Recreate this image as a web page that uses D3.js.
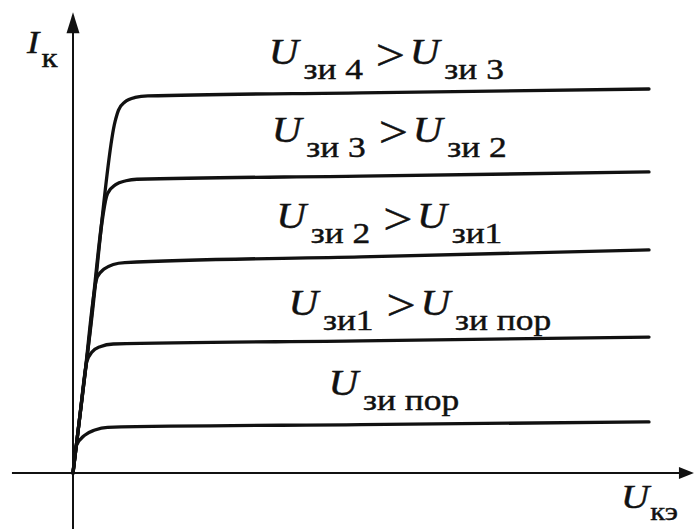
<!DOCTYPE html>
<html>
<head>
<meta charset="utf-8">
<script src="https://cdn.jsdelivr.net/npm/d3@7"></script>
<style>
  html, body { margin: 0; padding: 0; background: #fff; }
  svg { display: block; }
</style>
</head>
<body>
<svg id="chart" width="694" height="529"></svg>
<script>
// Output characteristics I_к(U_кэ) for increasing gate voltages (arbitrary units).
const gateLevels = ["зи 4", "зи 3", "зи 2", "зи1", "зи пор"];
const gateLower  = ["зи 3", "зи 2", "зи1", "зи пор", null];

// [U_кэ, I_к] points of each curve, top to bottom
const curveU4 = [[0,0],[0.3,3.7],[0.73,9.15],[0.79,9.45],[0.9,9.66],[1.08,9.78],[1.3,9.82],[5,9.9],[10,10]];
const curveU3 = [[0,0],[0.25,3.1],[0.6,7.28],[0.74,7.51],[0.92,7.61],[1.11,7.65],[5,7.73],[10,7.84]];
const curveU2 = [[0,0],[0.2,2.5],[0.42,5.1],[0.54,5.31],[0.7,5.43],[0.9,5.48],[5,5.63],[10,5.81]];
const curveU1 = [[0,0],[0.12,1.5],[0.24,2.9],[0.33,3.15],[0.47,3.29],[0.7,3.36],[5,3.44],[10,3.54]];
const curveUth = [[0,0],[0.06,0.72],[0.2,0.98],[0.38,1.12],[0.6,1.19],[5,1.26],[10,1.33]];
const curves = [curveU4, curveU3, curveU2, curveU1, curveUth];

// Axis extents in the same units
const uExtent = [-1.06, 10.78];
const iExtent = [-1.46, 12.0];

const SERIF = "Liberation Serif";
const INK = "#111";
const WIDEN = 1.18;   // horizontal stretch of the lettering

const svg = d3.select("#chart");
const x = d3.scaleLinear().domain([0, 10]).range([73, 649]);
const y = d3.scaleLinear().domain([0, 10]).range([473, 89]);

// Axes with arrowheads
const axes = svg.append("g").attr("stroke", INK).attr("stroke-width", 2);
axes.append("line")
  .attr("x1", x(uExtent[0])).attr("x2", x(uExtent[1]) - 10)
  .attr("y1", y(0)).attr("y2", y(0));
axes.append("line")
  .attr("x1", x(0)).attr("x2", x(0))
  .attr("y1", y(iExtent[0])).attr("y2", y(iExtent[1]) + 14);

const tipX = [x(uExtent[1]), y(0)];
svg.append("path")
  .attr("d", `M${tipX[0]},${tipX[1]} L${tipX[0]-15},${tipX[1]-6} L${tipX[0]-15},${tipX[1]+6} Z`)
  .attr("fill", INK);
const tipY = [x(0), y(iExtent[1])];
svg.append("path")
  .attr("d", `M${tipY[0]},${tipY[1]} L${tipY[0]-6.5},${tipY[1]+21} L${tipY[0]+6.5},${tipY[1]+21} Z`)
  .attr("fill", INK);

// Characteristic curves
const line = d3.line()
  .x(d => x(d[0]))
  .y(d => y(d[1]))
  .curve(d3.curveMonotoneX);

svg.append("g")
  .selectAll("path")
  .data(curves)
  .join("path")
  .attr("d", line)
  .attr("fill", "none")
  .attr("stroke", INK)
  .attr("stroke-width", 3.3)
  .attr("stroke-linecap", "round")
  .attr("stroke-linejoin", "round");

// Curve labels: U_зи… > U_зи…, centred over each curve (U_кэ, I_к units, baseline)
const labelAt = [[5.44, 10.65], [5.49, 8.62], [5.49, 6.38], [6.02, 4.12], [5.57, 2.03]];

function placeText(px, py, anchor) {
  return svg.append("g")
    .attr("transform", `translate(${px},${py}) scale(${WIDEN},1)`)
    .append("text")
    .attr("font-family", SERIF)
    .attr("fill", INK)
    .attr("stroke", INK)
    .attr("stroke-width", 0.45)
    .attr("text-anchor", anchor);
}

gateLevels.forEach((g, i) => {
  const t = placeText(x(labelAt[i][0]), y(labelAt[i][1]), "middle");
  t.append("tspan").attr("font-style", "italic").attr("font-size", 35).text("U");
  t.append("tspan").attr("font-size", 30).attr("dx", 4).attr("dy", 15).text(g);
  if (gateLower[i]) {
    t.append("tspan").attr("font-size", 44).attr("dx", 11).attr("dy", -9.5).text(">");
    t.append("tspan").attr("font-style", "italic").attr("font-size", 35)
      .attr("dx", 4).attr("dy", -5.5).text("U");
    t.append("tspan").attr("font-size", 30).attr("dx", 4).attr("dy", 15).text(gateLower[i]);
  }
});

// Axis titles
const iTitle = placeText(27, 53, "start");
iTitle.append("tspan").attr("font-style", "italic").attr("font-size", 31).text("I");
iTitle.append("tspan").attr("font-size", 28).attr("dx", 2).attr("dy", 14).text("к");

const uTitle = placeText(621, 508, "start");
uTitle.append("tspan").attr("font-style", "italic").attr("font-size", 33).text("U");
uTitle.append("tspan").attr("font-size", 26).attr("dx", 1).attr("dy", 12).text("кэ");
</script>
</body>
</html>
